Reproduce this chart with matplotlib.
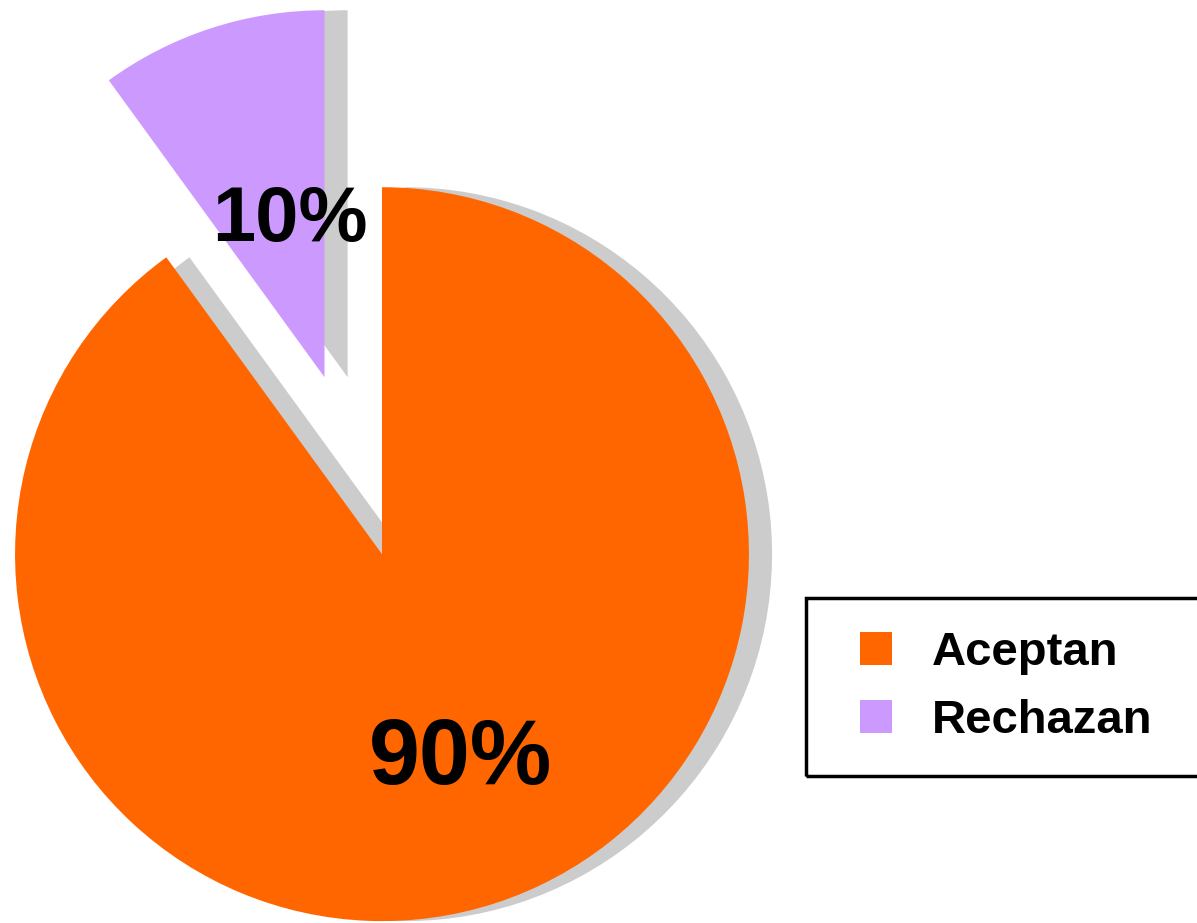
import matplotlib.pyplot as plt
from matplotlib.patches import Rectangle

plt.rcParams["font.family"] = ["Liberation Sans", "DejaVu Sans"]
plt.rcParams["font.weight"] = "bold"

# Data
labels = ["Aceptan", "Rechazan"]
shares = [90, 10]
colors = ["#FF6600", "#CC99FF"]
explode = [0, 0.507]
# label position relative to each wedge's own centre (radius units)
pct_offset = [(0.215, -0.56), (-0.095, 0.428)]
pct_size = [66, 56]

fig = plt.figure(figsize=(11.97, 9.23), dpi=100)
ax = fig.add_axes([0, 0, 1, 1])

# grey drop shadow: same pie shifted to the right
ax.pie(shares, colors=["#CCCCCC"] * 2, explode=explode, startangle=90,
       counterclock=False, center=(0.063, 0), radius=1,
       wedgeprops=dict(linewidth=0))

wedges, _ = ax.pie(shares, colors=colors, explode=explode, startangle=90,
                   counterclock=False, center=(0, 0), radius=1,
                   wedgeprops=dict(linewidth=0))

# percentage labels
for w, val, (dx, dy), fs in zip(wedges, shares, pct_offset, pct_size):
    cx, cy = w.center
    ax.text(cx + dx, cy + dy, f"{val}%", ha="center", va="center",
            fontsize=fs, fontweight="bold")

ax.set_xlim(-1.041, 2.221)
ax.set_ylim(-1.005, 1.510)
ax.set_aspect("equal")
ax.axis("off")

leg = fig.legend(wedges, labels, loc="upper left",
                 bbox_to_anchor=(860 / 1197, 1 - 631 / 923),
                 frameon=False, fontsize=34, borderpad=0, borderaxespad=0,
                 handlelength=0.68, handleheight=0.68, handletextpad=0.85,
                 labelspacing=0.51)
# legend box, runs off the right edge like the original
fig.patches.append(Rectangle((806 / 1197, 1 - 776 / 923), 0.4, 178 / 923,
                             transform=fig.transFigure, fill=False,
                             edgecolor="black", linewidth=2.5))

fig.savefig("out.png", dpi=100)
